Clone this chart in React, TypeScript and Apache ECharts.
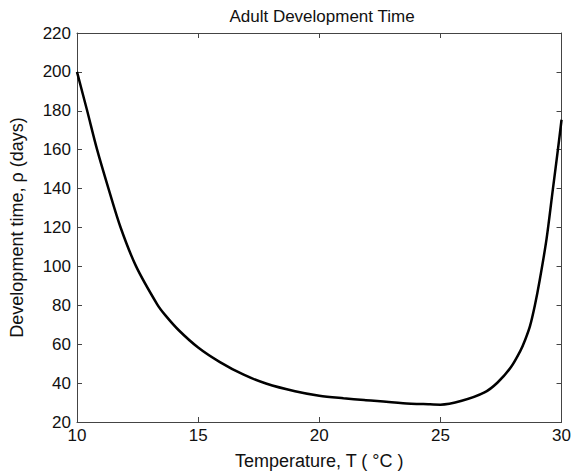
import React, { useEffect, useRef } from "react";
import * as echarts from "echarts";

const temperature = [10, 10.42, 10.83, 11.3, 11.8, 12.44, 13.31, 13.65, 14.19, 15, 15.9, 16.88, 17.8, 19, 20, 21, 21.85, 23.46, 24.5, 25, 25.88, 26.82, 27.36, 27.9, 28.3, 28.5, 28.7, 28.9, 29.1, 29.38, 29.64, 29.85, 30];
const devTime = [200, 180, 160, 140, 120, 100, 80.5, 74.8, 67.3, 58.3, 50.8, 44.3, 39.8, 35.8, 33.5, 32.2, 31.3, 29.7, 29.1, 28.9, 30.9, 35.2, 40.3, 48, 56.6, 62.3, 69.4, 80, 93, 114, 139.5, 160, 175.4];
const xTicks = { min: 10, max: 30, interval: 5 };
const yTicks = { min: 20, max: 220, interval: 20 };

const FONT = "'Liberation Sans', Arial, Helvetica, sans-serif";

export default function App() {
  const ref = useRef<HTMLDivElement>(null);
  useEffect(() => {
    if (!ref.current) return;
    const chart = echarts.init(ref.current, undefined, { renderer: "svg" });
    const axisLine = { show: true, lineStyle: { color: "#444", width: 1 } };
    const tick = { show: true, inside: true, length: 5, lineStyle: { color: "#444" } };
    chart.setOption({
      animation: false,
      backgroundColor: "#fff",
      title: {
        text: "Adult Development Time",
        left: 317,
        top: 3,
        textAlign: "center",
        textStyle: { fontFamily: FONT, fontSize: 17, fontWeight: "normal", color: "#111" },
      },
      grid: { left: 70, right: 9, top: 33, bottom: 52 },
      xAxis: [
        {
          type: "value",
          ...xTicks,
          name: "Temperature, T ( °C )",
          nameLocation: "middle",
          nameGap: 30,
          nameTextStyle: { fontFamily: FONT, fontSize: 18, color: "#111" },
          axisLine,
          axisTick: tick,
          splitLine: { show: false },
          axisLabel: { fontFamily: FONT, fontSize: 17, color: "#111", margin: 5 },
        },
        {
          type: "value",
          position: "top",
          ...xTicks,
          axisLine,
          axisTick: tick,
          splitLine: { show: false },
          axisLabel: { show: false },
        },
      ],
      yAxis: [
        {
          type: "value",
          ...yTicks,
          name: "Development time, ρ (days)",
          nameLocation: "middle",
          nameGap: 51,
          nameTextStyle: { fontFamily: FONT, fontSize: 18, color: "#111" },
          axisLine,
          axisTick: tick,
          splitLine: { show: false },
          axisLabel: { fontFamily: FONT, fontSize: 17, color: "#111", margin: 6 },
        },
        {
          type: "value",
          position: "right",
          ...yTicks,
          axisLine,
          axisTick: tick,
          splitLine: { show: false },
          axisLabel: { show: false },
        },
      ],
      series: [
        {
          type: "line",
          data: temperature.map((t, i) => [t, devTime[i]]),
          smooth: 0.3,
          showSymbol: false,
          lineStyle: { color: "#000", width: 2.5 },
        },
      ],
    });
    return () => chart.dispose();
  }, []);
  return <div ref={ref} style={{ width: 574, height: 475, position: "absolute", left: 0, top: 0 }} />;
}
